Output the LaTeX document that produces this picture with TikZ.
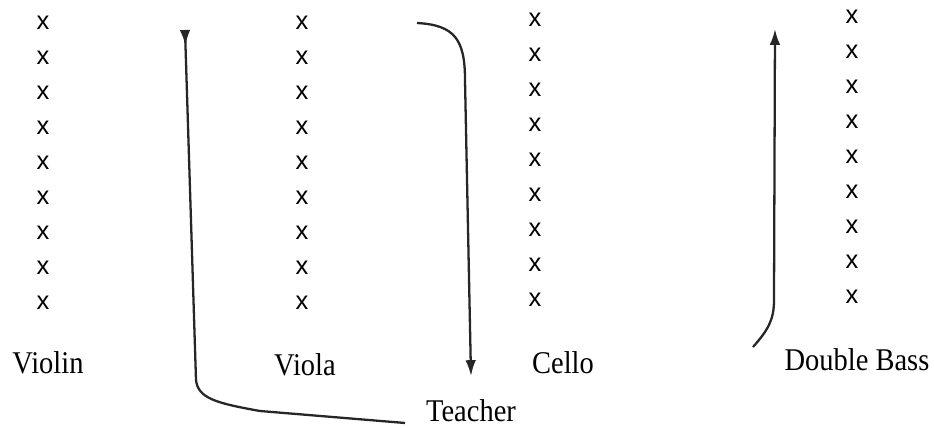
\documentclass[tikz,border=0pt]{standalone}
\usepackage{fontspec}
\setsansfont{Liberation Sans}
\newfontfamily\labelfont[FakeStretch=0.9]{Liberation Serif}
\usetikzlibrary{arrows.meta}

\begin{document}
\begin{tikzpicture}[x=0.02cm, y=-0.02cm, >={Latex[length=9pt, width=6pt]}]
    \tikzset{
        seat/.style={font=\sffamily\fontsize{14.5}{14.5}\selectfont, inner sep=0pt},
        instr/.style={font=\labelfont\fontsize{18}{18}\selectfont, inner sep=0pt, anchor=base},
        route/.style={line width=1.3pt, color=black!85}
    }
    \useasboundingbox (0,0) rectangle (934,428);

    % 1. Players, one column of x per section
    \foreach \i in {1,...,9} {
        \node[seat] (vn\i) at (43, {23+35*(\i-1)}) {x};
        \node[seat] (va\i) at (302, {23+35*(\i-1)}) {x};
        \node[seat] (vc\i) at (535, {20+35*(\i-1)}) {x};
        \node[seat] (db\i) at (852, {17+35*(\i-1)}) {x};
    }

    % 2. Section names
    \node[instr] (violin) at (48,374) {Violin};
    \node[instr] (viola) at (305,376) {Viola};
    \node[instr] (cello) at (563,374) {Cello};
    \node[instr] (bass) at (857,371) {Double Bass};
    \node[instr] (teacher) at (471,422) {Teacher};

    % 3. Paths taken
    \coordinate (violinTop) at (185,30);
    \coordinate (violinCorner) at (196,380);
    \coordinate (teacherEnd) at (405,423);
    \draw[route, {Latex[length=9pt, width=6pt, reversed]}-] (violinTop) -- (violinCorner)
        .. controls (198,398) and (215,403) .. (260,411) -- (teacherEnd);

    \coordinate (violaStart) at (417,23);
    \coordinate (celloEnd) at (471,376);
    \draw[route, ->] (violaStart) .. controls (455,25) and (465,40) .. (465,80) -- (celloEnd);

    \coordinate (bassStart) at (753,347);
    \coordinate (bassEnd) at (775,29);
    \draw[route, ->] (bassStart) .. controls (768,330) and (774,320) .. (774,300) -- (bassEnd);
\end{tikzpicture}
\end{document}
